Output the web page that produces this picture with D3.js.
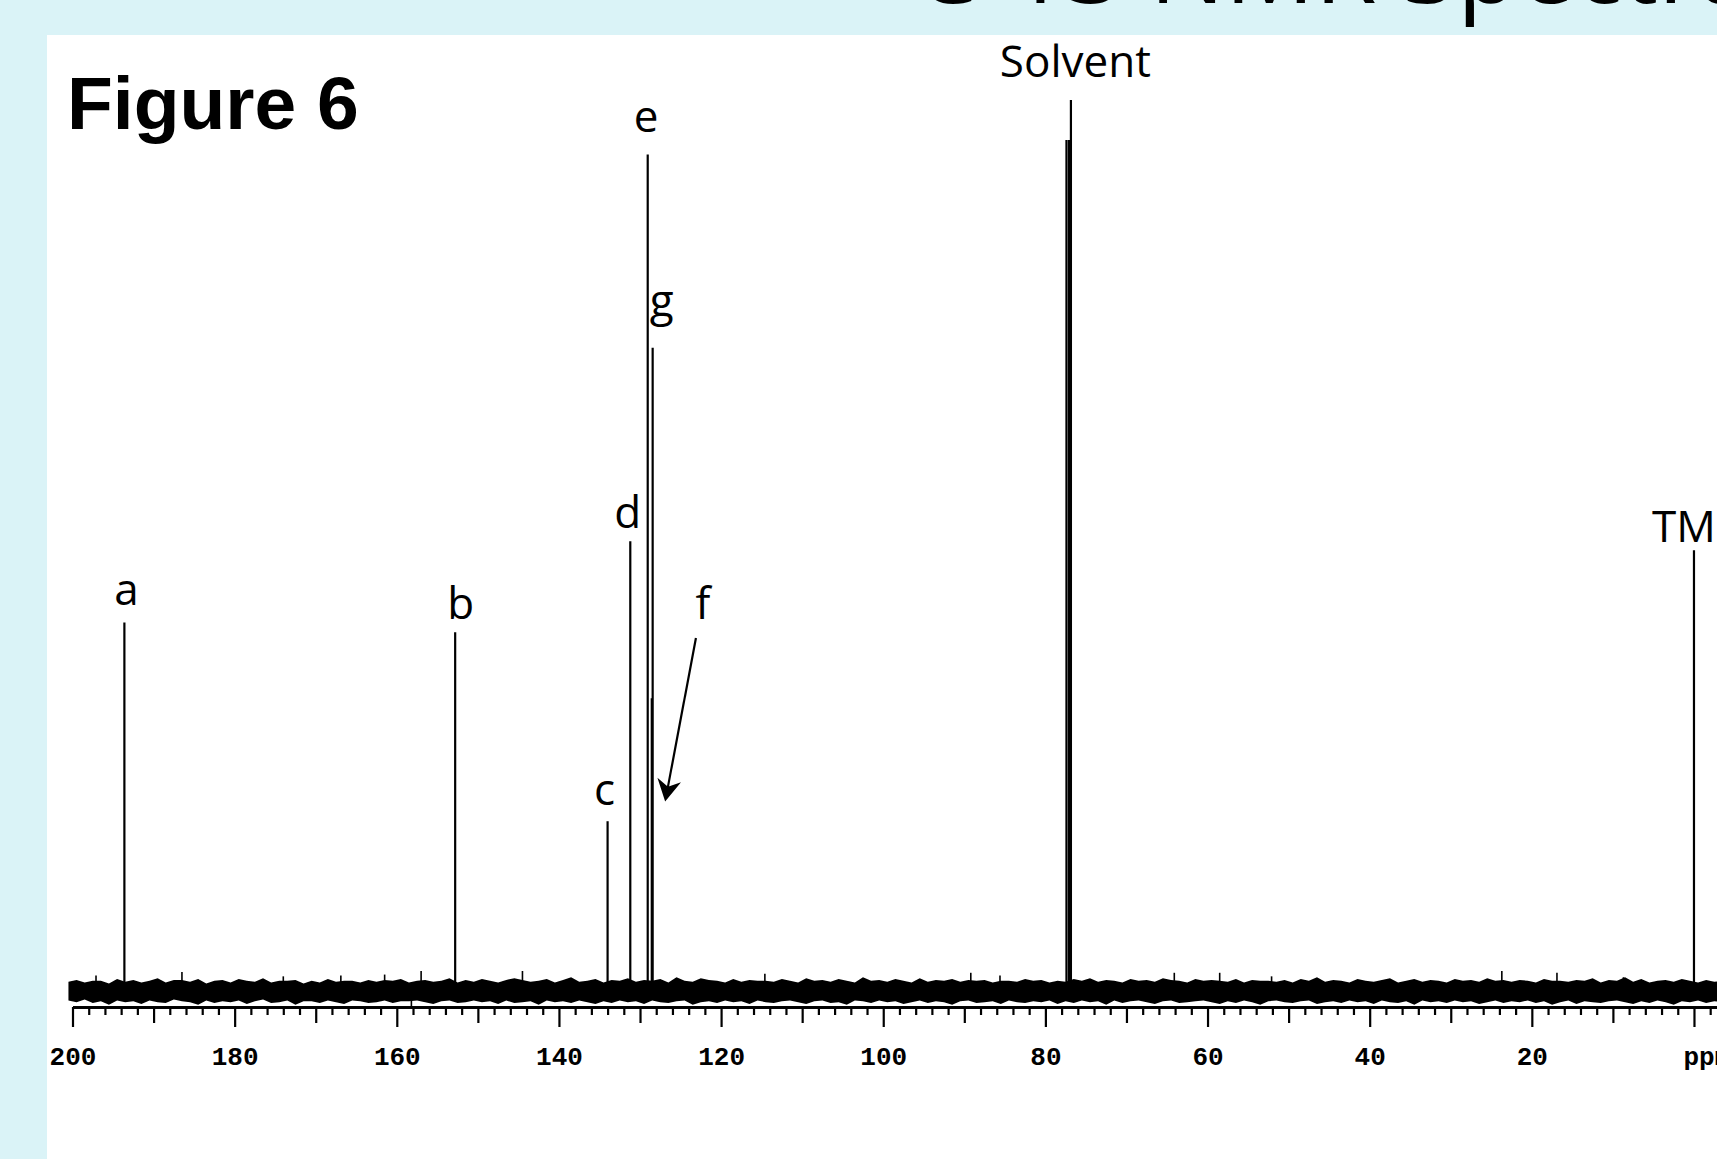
<!DOCTYPE html>
<html>
<head>
<meta charset="utf-8">
<script src="https://cdn.jsdelivr.net/npm/d3@7"></script>
<style>
  body { margin: 0; background: #daf3f7; }
  svg { display: block; }
</style>
</head>
<body>
<div id="chart"></div>
<script>
// 13C spectrum, heights relative to the tallest solvent line (= 100)
var peakLabels = ["a", "b", "c", "d", "e", "f", "g"];
var peakShifts = [193.6, 152.8, 134.0, 131.2, 129.05, 128.55, 128.44];
var peakHeights = [41.4, 40.3, 19.1, 50.5, 93.9, 32.9, 72.2];

var solventShifts = [77.4, 77.1, 76.85];
var solventHeights = [95.5, 95.5, 100];

var tmsShift = 0.0;
var tmsHeight = 49.5;

var majorTicks = [200, 180, 160, 140, 120, 100, 80, 60, 40, 20, 0];
var mediumTicks = [190, 170, 150, 130, 110, 90, 70, 50, 30, 10];

// baseline noise envelope, one sample per ppm starting at 200.5 ppm
var noiseStart = 200.5;
var noiseHi = [
  1.1, 1.3, 1.0, 1.2, 1.2, 0.9, 1.4, 1.1, 1.3, 1.0,
  1.2, 1.5, 1.0, 1.3, 1.3, 1.1, 1.4, 0.9, 1.2, 1.3,
  1.0, 1.4, 1.2, 1.1, 1.5, 1.0, 1.2, 1.2, 1.3, 0.9,
  1.2, 1.0, 1.4, 1.1, 1.2, 1.2, 1.0, 1.3, 1.1, 1.3,
  1.2, 1.4, 1.0, 1.2, 1.3, 1.1, 1.2, 1.5, 1.0, 1.3,
  1.1, 1.4, 1.2, 1.0, 1.3, 1.5, 1.3, 1.1, 1.2, 1.4,
  1.0, 1.3, 1.6, 1.1, 1.2, 1.4, 1.0, 1.3, 1.2, 1.5,
  1.1, 1.3, 1.2, 1.4, 1.0, 1.6, 1.2, 1.1, 1.5, 1.3,
  1.2, 1.0, 1.4, 1.1, 1.3, 1.2, 1.2, 1.1, 1.4, 1.2,
  1.0, 1.5, 1.2, 1.3, 1.1, 1.4, 1.2, 1.0, 1.6, 1.2,
  1.3, 1.1, 1.4, 1.2, 1.0, 1.5, 1.1, 1.3, 1.2, 1.4,
  1.1, 1.3, 1.2, 1.3, 1.0, 1.2, 1.2, 1.1, 1.4, 1.2,
  1.3, 1.0, 1.2, 1.1, 1.4, 1.2, 1.5, 1.1, 1.3, 1.2,
  1.0, 1.4, 1.2, 1.3, 1.1, 1.5, 1.3, 1.2, 1.0, 1.4,
  1.2, 1.3, 1.2, 1.1, 1.4, 1.0, 1.3, 1.2, 1.2, 1.1,
  1.3, 1.0, 1.4, 1.2, 1.6, 1.1, 1.3, 1.2, 1.0, 1.4,
  1.2, 1.1, 1.3, 1.5, 1.0, 1.2, 1.4, 1.1, 1.3, 1.2,
  1.0, 1.4, 1.2, 1.3, 1.1, 1.5, 1.2, 1.3, 1.1, 1.3,
  1.2, 1.0, 1.4, 1.2, 1.2, 1.1, 1.3, 1.2, 1.5, 1.0,
  1.3, 1.2, 1.6, 1.1, 1.4, 1.0, 1.2, 1.3, 1.1, 1.4,
  1.2, 1.0, 1.3, 1.1, 1.2
];
var noiseLo = [
  -1.0, -1.2, -0.9, -1.3, -1.1, -1.5, -1.0, -1.2, -1.1, -1.4,
  -1.0, -1.2, -1.3, -0.9, -1.1, -1.2, -1.5, -1.0, -1.3, -1.1,
  -1.2, -1.0, -1.4, -1.1, -0.9, -1.3, -1.2, -1.0, -1.5, -1.1,
  -1.1, -1.3, -1.0, -1.2, -1.4, -1.0, -1.1, -1.3, -1.2, -1.0,
  -1.3, -1.1, -1.1, -1.0, -1.2, -1.4, -1.1, -1.0, -1.3, -1.2,
  -1.0, -1.2, -1.1, -1.4, -1.0, -1.3, -1.2, -1.1, -1.5, -1.0,
  -1.2, -1.1, -1.3, -1.0, -1.2, -1.4, -1.1, -1.3, -1.0, -1.2,
  -1.1, -1.4, -1.0, -1.2, -1.3, -1.1, -1.0, -1.5, -1.2, -1.1,
  -1.3, -1.0, -1.2, -1.1, -1.4, -1.0, -1.2, -1.3, -1.1, -1.0,
  -1.2, -1.4, -1.1, -1.0, -1.3, -1.2, -1.5, -1.0, -1.1, -1.3,
  -1.0, -1.2, -1.1, -1.4, -1.2, -1.0, -1.3, -1.1, -1.2, -1.5,
  -1.1, -1.0, -1.3, -1.2, -1.1, -1.4, -1.0, -1.2, -1.3, -1.1,
  -1.2, -1.0, -1.4, -1.1, -1.3, -1.0, -1.2, -1.1, -1.5, -1.0,
  -1.3, -1.1, -1.0, -1.2, -1.4, -1.1, -1.0, -1.3, -1.2, -1.1,
  -1.0, -1.2, -1.4, -1.1, -1.3, -1.0, -1.2, -1.5, -1.1, -1.0,
  -1.2, -1.3, -1.1, -1.0, -1.4, -1.2, -1.1, -1.3, -1.0, -1.2,
  -1.1, -1.4, -1.0, -1.2, -1.3, -1.1, -1.5, -1.0, -1.2, -1.1,
  -1.3, -1.0, -1.2, -1.1, -1.4, -1.2, -1.0, -1.3, -1.1, -1.2,
  -1.0, -1.3, -1.1, -1.5, -1.2, -1.0, -1.4, -1.1, -1.2, -1.3,
  -1.1, -1.0, -1.2, -1.4, -1.1, -1.3, -1.0, -1.2, -1.5, -1.1,
  -1.2, -1.0, -1.3, -1.1, -1.2
];

// single noise spikes that stick out of the band
var spikeShifts = [197.1, 186.5, 174.0, 166.9, 161.5, 158.2, 157.0, 144.5, 114.6, 89.2, 85.6, 64.1, 58.5, 52.1, 23.7, 16.9, 8.7];
var spikeHeights = [1.8, 2.2, 1.7, 1.8, 1.9, -1.8, 2.3, 2.3, 2.0, 2.1, 1.8, 2.1, 2.1, 1.7, 2.3, 2.1, 1.6];

var width = 1717, height = 1159;

var svg = d3.select("#chart").append("svg")
  .attr("width", width)
  .attr("height", height);

// slide title, only its lower edge is visible above the panel
svg.append("text")
  .attr("x", 914)
  .attr("y", 3)
  .style("font-family", "'Open Sans', sans-serif")
  .style("font-size", "100px")
  .style("fill", "#000")
  .text("C-13 NMR Spectra");

// white figure panel
svg.append("rect")
  .attr("x", 47)
  .attr("y", 35)
  .attr("width", width - 47)
  .attr("height", height - 35)
  .style("fill", "#fff");

svg.append("text")
  .attr("x", 67)
  .attr("y", 129)
  .style("font-family", "'Liberation Sans', Arial, sans-serif")
  .style("font-weight", "bold")
  .style("font-size", "75px")
  .text("Figure 6");

var x = d3.scaleLinear().domain([200, -2.84]).range([72.5, 1717]);
var y = d3.scaleLinear().domain([0, 100]).range([991.5, 100]);

// noise band
var noise = noiseHi.map((h, i) => ({ppm: noiseStart - i, hi: h, lo: noiseLo[i]}));
svg.append("path")
  .datum(noise)
  .attr("d", d3.area()
    .x(d => x(d.ppm))
    .y0(d => y(d.lo))
    .y1(d => y(d.hi)))
  .style("fill", "#000");

svg.selectAll(".spike")
  .data(spikeShifts.map((s, i) => ({ppm: s, h: spikeHeights[i]})))
  .enter()
  .append("line")
  .attr("class", "spike")
  .attr("x1", d => x(d.ppm))
  .attr("x2", d => x(d.ppm))
  .attr("y1", y(0))
  .attr("y2", d => y(d.h))
  .style("stroke", "#000")
  .style("stroke-width", 1.6);

// peak lines
var peaks = peakShifts.map((s, i) => ({ppm: s, h: peakHeights[i], label: peakLabels[i]}))
  .concat(solventShifts.map((s, i) => ({ppm: s, h: solventHeights[i], label: null})))
  .concat([{ppm: tmsShift, h: tmsHeight, label: null}]);

svg.selectAll(".peak")
  .data(peaks)
  .enter()
  .append("line")
  .attr("class", "peak")
  .attr("x1", d => x(d.ppm))
  .attr("x2", d => x(d.ppm))
  .attr("y1", y(0))
  .attr("y2", d => y(d.h))
  .style("stroke", "#000")
  .style("stroke-width", 2.2);

// axis: minor, medium and major ticks
var axisY = 1007;
var minorTicks = d3.range(198, -3, -2).filter(v => v % 10 != 0);

function tickAxis(values, size, fmt) {
  return d3.axisBottom(x)
    .tickValues(values)
    .tickSize(size)
    .tickSizeOuter(0)
    .tickFormat(fmt);
}

var gMinor = svg.append("g")
  .attr("transform", "translate(0," + axisY + ")")
  .call(tickAxis(minorTicks, 8, () => ""));
var gMed = svg.append("g")
  .attr("transform", "translate(0," + axisY + ")")
  .call(tickAxis(mediumTicks, 16, () => ""));
var gMajor = svg.append("g")
  .attr("transform", "translate(0," + axisY + ")")
  .call(tickAxis(majorTicks, 20, d => d == 0 ? "ppm" : d));

[gMinor, gMed, gMajor].forEach(g => {
  g.selectAll(".tick line").style("stroke", "#000").style("stroke-width", 2.2);
  g.select(".domain").style("stroke", "#000").style("stroke-width", 2.6);
});

gMajor.selectAll(".tick text")
  .attr("y", 0)
  .attr("dy", 58)
  .style("font-family", "'Liberation Mono', 'DejaVu Sans Mono', monospace")
  .style("font-weight", "bold")
  .style("font-size", "26px")
  .style("fill", "#000");
gMajor.selectAll(".tick text")
  .filter(d => d == 0)
  .attr("text-anchor", "start")
  .attr("x", -11);

// peak labels
var labelFont = "'Open Sans', sans-serif";
var labelOffset = {a: [2, 17], b: [5.5, 13], c: [-3, 16], d: [-2.5, 13], e: [-1.7, 22], g: [9, 32]};

svg.selectAll(".plabel")
  .data(peaks.filter(d => labelOffset[d.label]))
  .enter()
  .append("text")
  .attr("class", "plabel")
  .attr("x", d => x(d.ppm) + labelOffset[d.label][0])
  .attr("y", d => y(d.h) - labelOffset[d.label][1])
  .attr("text-anchor", "middle")
  .style("font-family", labelFont)
  .style("font-size", "44px")
  .text(d => d.label);

svg.append("text")
  .attr("x", x(d3.mean(solventShifts)) + 6.6)
  .attr("y", y(d3.max(solventHeights)) - 23)
  .attr("text-anchor", "middle")
  .style("font-family", labelFont)
  .style("font-size", "44px")
  .text("Solvent");

svg.append("text")
  .attr("x", x(tmsShift) - 42)
  .attr("y", y(tmsHeight) - 8)
  .style("font-family", labelFont)
  .style("font-size", "44px")
  .text("TMS");

// arrow for f
var arrowFrom = [123.1, 39.65], arrowTo = [126.9, 21.3];
var x0 = x(arrowFrom[0]), y0 = y(arrowFrom[1]);
var x1 = x(arrowTo[0]), y1 = y(arrowTo[1]);
var len = Math.hypot(x1 - x0, y1 - y0);
var ux = (x1 - x0) / len, uy = (y1 - y0) / len;
var px = -uy, py = ux;

svg.append("line")
  .attr("x1", x0).attr("y1", y0)
  .attr("x2", x1 - ux * 14).attr("y2", y1 - uy * 14)
  .style("stroke", "#000")
  .style("stroke-width", 2.2);

var head = [
  [x1, y1],
  [x1 - ux * 22 + px * 12, y1 - uy * 22 + py * 12],
  [x1 - ux * 15, y1 - uy * 15],
  [x1 - ux * 22 - px * 12, y1 - uy * 22 - py * 12]
];
svg.append("path")
  .attr("d", "M" + head.join("L") + "Z")
  .style("fill", "#000");

svg.append("text")
  .attr("x", x0 + 7)
  .attr("y", y0 - 19)
  .attr("text-anchor", "middle")
  .style("font-family", labelFont)
  .style("font-size", "44px")
  .text("f");
</script>
</body>
</html>
